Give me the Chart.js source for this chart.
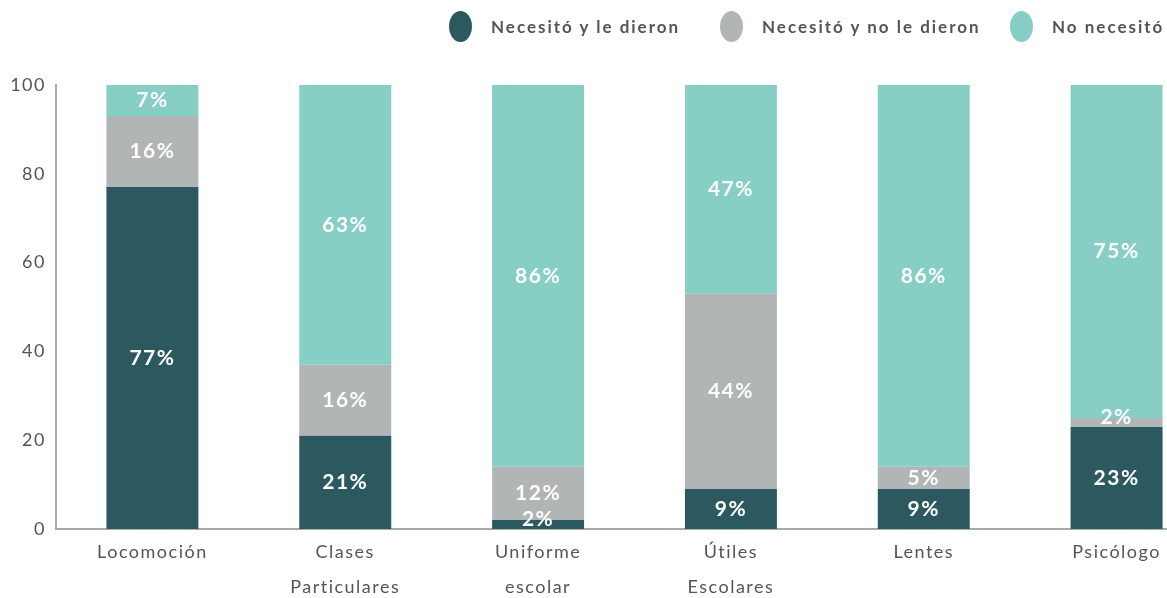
<!DOCTYPE html>
<html>
<head>
<meta charset="utf-8">
<script src="https://cdn.jsdelivr.net/npm/chart.js@4.4.0/dist/chart.umd.min.js"></script>
<style>
  html, body { margin: 0; padding: 0; background: #fff; overflow: hidden; }
  #wrap { position: relative; width: 1167px; height: 598px; overflow: hidden; }
  #chart { position: absolute; left: 0; top: 0; }
  .leg { position: absolute; top: 11px; display: flex; align-items: center; font-family: Lato, "Open Sans", sans-serif;
         font-weight: bold; font-size: 17px; letter-spacing: 2px; color: #555; white-space: nowrap; }
  .leg span.dot { display: inline-block; width: 23px; height: 31px; border-radius: 50%; margin-right: 19px; }
</style>
</head>
<body>
<div id="wrap">
  <canvas id="chart" width="1213" height="598"></canvas>
  <div id="legend"></div>
</div>
<script>
// --- Data ---
const categories = [
    ['Locomoción'],
    ['Clases', 'Particulares'],
    ['Uniforme', 'escolar'],
    ['Útiles', 'Escolares'],
    ['Lentes'],
    ['Psicólogo']
];
const seriesNames = ['Necesitó y le dieron', 'Necesitó y no le dieron', 'No necesitó'];
const gotIt     = [77, 21, 2, 9, 9, 23];
const notGiven  = [16, 16, 12, 44, 5, 2];
const notNeeded = [7, 63, 86, 47, 86, 75];
const yTicks = [0, 20, 40, 60, 80, 100];

const colors = ['#2c5960', '#b2b5b6', '#87cfc5'];
const seriesValues = [gotIt, notGiven, notNeeded];

// --- Legend (html, so it can sit to the right like the original) ---
const legendLeft = [449, 720, 1010];
const legendEl = document.getElementById('legend');
seriesNames.forEach((name, i) => {
    const item = document.createElement('div');
    item.className = 'leg';
    item.style.left = legendLeft[i] + 'px';
    item.innerHTML = `<span class="dot" style="background:${colors[i]}"></span>${name}`;
    legendEl.appendChild(item);
});

// --- Wider tracking on the axis text, like the original font ---
const tracking = {
    id: 'tracking',
    beforeDraw(chart) { chart.ctx.letterSpacing = '1.5px'; }
};

// --- Percent labels inside the bars ---
const barLabels = {
    id: 'barLabels',
    afterDatasetsDraw(chart) {
        const ctx = chart.ctx;
        ctx.save();
        ctx.fillStyle = '#fff';
        ctx.font = 'bold 21px Lato, "Open Sans", sans-serif';
        ctx.letterSpacing = '1.5px';
        ctx.textAlign = 'center';
        ctx.textBaseline = 'middle';
        chart.data.datasets.forEach((ds, di) => {
            chart.getDatasetMeta(di).data.forEach((bar, i) => {
                const v = ds.data[i];
                if (!v) return;
                let y = (bar.y + bar.base) / 2;
                if (v < 4) y = Math.min(y, bar.y + 2) - 3;
                ctx.fillText(v + '%', bar.x, y);
            });
        });
        ctx.restore();
    }
};

const ctx = document.getElementById('chart').getContext('2d');
new Chart(ctx, {
    type: 'bar',
    data: {
        labels: categories,
        datasets: seriesNames.map((name, i) => ({
            label: name,
            data: seriesValues[i],
            backgroundColor: colors[i],
            borderWidth: 0,
            barPercentage: 0.477,
            categoryPercentage: 1
        }))
    },
    options: {
        responsive: false,
        animation: false,
        devicePixelRatio: 1,
        layout: { padding: { top: 85, right: 0, left: 0, bottom: 0 } },
        plugins: { legend: { display: false }, tooltip: { enabled: false } },
        scales: {
            x: {
                stacked: true,
                grid: { display: false, drawTicks: false },
                border: { display: true, color: '#a9a9a9', width: 2 },
                ticks: {
                    color: '#555',
                    font: { family: 'Lato, "Open Sans", sans-serif', size: 18, lineHeight: 1.95 },
                    padding: 6,
                    maxRotation: 0,
                    autoSkip: false
                },
                afterFit: s => { s.height = 69; }
            },
            y: {
                stacked: true,
                min: 0,
                max: 100,
                grid: { display: false, drawTicks: false },
                border: { display: true, color: '#a9a9a9', width: 2 },
                afterBuildTicks: s => { s.ticks = yTicks.map(v => ({ value: v })); },
                ticks: {
                    color: '#555',
                    font: { family: 'Lato, "Open Sans", sans-serif', size: 18 },
                    padding: 10
                },
                afterFit: s => { s.width = 56; }
            }
        }
    },
    plugins: [tracking, barLabels]
});
</script>
</body>
</html>
